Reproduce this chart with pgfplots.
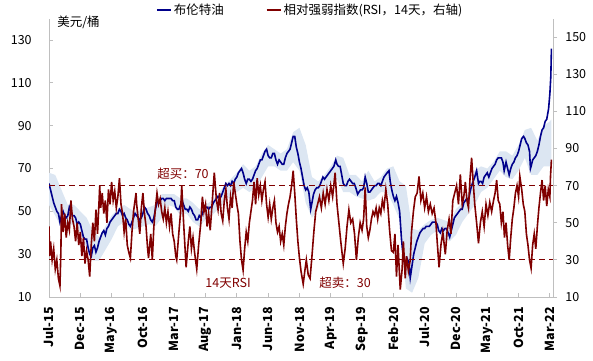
\documentclass[border=0pt]{standalone}
\usepackage{pgfplots}
\pgfplotsset{compat=1.18}
\usepackage{pgfplotstable}
\usepgfplotslibrary{fillbetween}
\usepackage{fontspec}
\setmainfont{Noto Sans CJK SC}
\definecolor{oilblue}{RGB}{0,0,139}
\definecolor{rsired}{RGB}{128,0,0}
\definecolor{bandblue}{RGB}{220,230,242}
\definecolor{axgray}{RGB}{191,191,191}

\pgfplotstableread{
m p
0 63
0.25 60
0.5 57
0.75 54
1.0 52
1.25 50
1.5 49
1.75 45
2.0 48
2.25 50
2.5 48
2.75 47
3.0 48
3.25 52
3.5 50
3.75 48
4.0 48
4.25 47
4.5 44
4.75 45
5.0 44
5.25 41
5.5 38
5.75 37
6.0 37
6.25 33
6.5 30
6.75 29
7.0 33
7.25 34
7.5 31
7.75 33
8.0 36
8.25 38
8.5 40
8.75 41
9.0 39
9.25 42
9.5 43
9.75 45
10.0 46
10.25 47
10.5 48
10.75 49
11.0 49
11.25 51
11.5 50
11.75 48
12.0 49
12.25 47
12.5 46
12.75 44
13.0 43
13.25 45
13.5 47
13.75 49
14.0 48
14.25 47
14.5 46
14.75 47
15.0 49
15.25 52
15.5 51
15.75 49
16.0 48
16.25 46
16.5 45
16.75 47
17.0 51
17.25 54
17.5 55
17.75 55
18.0 56
18.25 56
18.5 55
18.75 56
19.0 56
19.25 56
19.5 56
19.75 55
20.0 55
20.25 52
20.5 51
20.75 51
21.0 53
21.25 55
21.5 53
21.75 51
22.0 51
22.25 50
22.5 52
22.75 51
23.0 49
23.25 48
23.5 46
23.75 46
24.0 48
24.25 47
24.5 49
24.75 51
25.0 52
25.25 52
25.5 51
25.75 52
26.0 52
26.25 54
26.5 55
26.75 56
27.0 57
27.25 56
27.5 57
27.75 59
28.0 61
28.25 63
28.5 62
28.75 63
29.0 62
29.25 64
29.5 63
29.75 65
30.0 66
30.25 68
30.5 69
30.75 70
31.0 68
31.25 65
31.5 63
31.75 65
32.0 65
32.25 64
32.5 65
32.75 67
33.0 69
33.25 70
33.5 72
33.75 74
34.0 74
34.25 76
34.5 78
34.75 79
35.0 76
35.25 75
35.5 75
35.75 77
36.0 77
36.25 74
36.5 72
36.75 74
37.0 73
37.25 72
37.5 72
37.75 75
38.0 77
38.25 78
38.5 79
38.75 82
39.0 85
39.25 85
39.5 80
39.75 77
40.0 73
40.25 70
40.5 66
40.75 62
41.0 60
41.25 61
41.5 59
41.8 51
42.0 54
42.25 58
42.5 60
42.75 61
43.0 61
43.25 62
43.5 64
43.75 66
44.0 65
44.25 66
44.5 67
44.75 68
45.0 69
45.25 70
45.5 71
45.8 74
46.0 72
46.25 71
46.5 71
46.75 67
47.0 63
47.25 62
47.5 62
47.75 64
48.0 65
48.25 64
48.5 63
48.75 63
49.0 61
49.3 58
49.5 59
49.75 60
50.0 60
50.25 61
50.5 66
50.75 63
51.0 59
51.25 59
51.5 60
51.75 61
52.0 62
52.25 62
52.5 63
52.75 63
53.0 62
53.25 64
53.5 66
53.75 67
54.0 68
54.3 69
54.5 64
54.75 60
55.0 57
55.25 55
55.5 57
55.75 54
56.0 50
56.3 37
56.6 28
56.9 25
57.2 28
57.5 26
57.7 19
58.0 25
58.25 30
58.5 33
58.75 36
59.0 38
59.25 40
59.5 41
59.75 42
60.0 42
60.25 43
60.5 43
60.75 43
61.0 44
61.25 45
61.5 45
61.75 45
62.0 44
62.25 41
62.5 40
62.75 42
63.0 41
63.25 42
63.5 42
63.75 40
64.0 38
64.25 41
64.5 44
64.75 47
65.0 48
65.25 49
65.5 50
65.75 51
66.0 51
66.25 54
66.5 55
66.75 56
67.0 55
67.25 59
67.5 62
67.75 64
68.0 66
68.3 69
68.6 63
68.8 64
69.0 64
69.25 63
69.5 66
69.75 67
70.0 68
70.25 66
70.5 68
70.75 70
71.0 71
71.25 72
71.5 74
71.75 75
72.0 75
72.25 75
72.5 73
72.7 69
73.0 73
73.25 70
73.5 67
73.75 70
74.0 72
74.25 73
74.5 75
74.75 76
75.0 78
75.25 81
75.5 84
75.8 85
76.0 84
76.25 82
76.5 81
76.75 78
76.9 70
77.0 71
77.25 74
77.5 75
77.75 76
78.0 78
78.25 81
78.5 85
78.75 88
79.0 89
79.25 92
79.5 93
79.8 98
80.0 105
80.15 113
80.25 126
}\oiltable

\pgfplotstableread{
m r
0 48
0.1 32
0.25 40
0.5 30
0.75 36
1.0 25
1.25 30
1.5 20
1.75 16
1.9 35
2.0 60
2.25 45
2.5 55
2.75 42
3.0 50
3.25 46
3.5 62
3.75 52
4.0 48
4.25 40
4.5 50
4.75 38
5.0 45
5.25 32
5.5 42
5.75 28
6.0 35
6.25 30
6.5 21
6.75 38
7.0 50
7.25 40
7.5 57
7.75 44
8.0 62
8.1 70
8.25 58
8.5 66
8.75 55
9.0 62
9.25 50
9.5 68
9.75 60
10.0 72
10.25 62
10.5 67
10.75 58
11.0 64
11.25 74
11.5 60
11.75 55
12.0 45
12.25 52
12.5 38
12.75 34
13.0 31
13.25 45
13.5 56
13.9 66
14.0 60
14.25 52
14.5 44
14.75 58
15.0 66
15.25 55
15.5 48
15.75 36
15.9 31
16.25 44
16.5 30
16.75 48
17.0 58
17.25 66
17.5 60
17.75 63
18.0 56
18.25 52
18.5 58
18.75 50
19.0 56
19.25 48
19.5 55
19.75 44
20.0 40
20.25 32
20.4 30
20.75 45
21.0 55
21.2 70
21.5 50
21.9 26
22.25 40
22.5 48
22.75 36
23.0 42
23.25 34
23.6 25
23.9 38
24.25 50
24.5 64
24.75 56
25.0 60
25.25 48
25.5 55
25.75 46
26.0 58
26.4 77
26.75 62
27.0 57
27.25 66
27.5 55
27.75 51
28.0 62
28.25 68
28.5 58
28.75 52
29.0 64
29.25 58
29.5 72
29.75 66
30.0 60
30.25 55
30.5 40
30.75 30
31.0 24.5
31.25 36
31.5 45
31.75 40
32.0 50
32.25 56
32.5 62
32.75 72
33.0 60
33.25 74
33.5 65
33.75 70
34.0 62
34.25 68
34.5 72
34.75 60
35.0 53
35.25 60
35.5 52
35.75 58
36.0 62
36.25 50
36.5 45
36.75 48
37.0 40
37.25 44
37.5 38
37.75 48
38.0 55
38.25 60
38.5 64
38.75 70
39.0 78
39.25 66
39.5 52
39.75 40
40.0 31
40.25 24
40.6 17
40.9 25
41.1 30
41.4 22
41.7 20
42.0 32
42.3 45
42.6 56
42.9 60
43.2 64
43.5 58
43.8 66
44.1 60
44.4 68
44.7 62
45.0 70
45.3 64
45.7 77
46.0 60
46.3 50
46.6 40
47.0 28
47.3 36
47.6 48
47.9 57
48.2 50
48.5 52
48.8 44
49.1 30
49.4 42
49.7 50
50.0 46
50.25 52
50.5 69
50.75 48
51.0 42
51.25 46
51.5 52
51.75 56
52.0 54
52.25 58
52.5 52
52.75 58
53.0 55
53.25 62
53.5 58
53.8 68
54.1 60
54.4 46
54.7 35
55.0 34
55.25 44
55.5 21
55.75 38
56.1 14
56.4 25
56.6 40
56.9 20
57.1 32
57.4 24
57.7 30
57.9 45
58.2 56
58.5 64
58.8 66
59.1 75
59.4 62
59.7 66
60.0 58
60.3 64
60.6 56
60.9 60
61.2 55
61.5 58
61.8 50
62.0 40
62.3 26
62.6 38
62.9 45
63.3 33
63.6 46
63.9 52
64.2 44
64.5 62
64.8 66
65.1 70
65.4 60
65.7 76
66.0 60
66.25 64
66.5 72
66.75 62
67.0 58
67.25 74
67.5 85
67.75 72
68.0 60
68.3 50
68.6 39
68.9 50
69.2 56
69.5 48
69.8 60
70.1 54
70.4 61
70.7 56
71.0 62
71.25 66
71.5 73
71.75 62
72.0 60
72.25 50
72.5 56
72.75 42
73.0 50
73.25 38
73.5 30
73.75 42
74.0 52
74.25 58
74.5 66
74.75 70
75.0 64
75.2 75
75.5 68
75.75 60
76.0 56
76.25 44
76.5 38
76.75 30
77.0 25.5
77.25 38
77.5 44
77.75 36
78.0 48
78.25 58
78.5 66
78.75 73
79.0 62
79.25 70
79.5 59
79.75 68
80.0 64
80.1 75
80.25 84
}\rsitable

\pgfplotstableread{
m lo hi
0 53 68
1 48 67
2 42 60
3 43 53
4 44 53
5 40 50
6 33 47
7 27 41
8 27 38
9 32 43
10 37 48
11 43 51
12 45 53
13 41 51
14 42 50
15 43 51
16 44 52
17 43 53
18 47 58
19 53 58
20 52 58
21 48 56
22 49 56
23 45 54
24 43 51
25 46 53
26 48 55
27 51 58
28 54 62
29 57 65
30 59 68
31 61 72
32 59 69
33 61 71
34 66 77
35 71 81
36 71 79
37 69 77
38 69 79
39 73 87
40 69 89
41 54 81
42 47 66
43 51 64
44 59 67
45 63 71
46 65 76
47 59 75
48 59 67
49 57 67
50 56 64
51 55 69
52 56 64
53 59 66
54 59 70
55 53 71
56 46 64
57 14 62
58 12 42
59 19 41
60 35 44
61 39 46
62 41 47
63 37 46
64 36 45
65 39 51
66 45 54
67 49 59
68 53 69
69 59 71
70 61 70
71 65 73
72 69 78
73 66 78
74 65 76
75 69 81
76 75 88
77 67 89
78 67 83
79 71 90
80 71 92
80.25 71 93
}\bandtable

\begin{document}
\fontsize{12.5}{15}\selectfont
\begin{tikzpicture}
\pgfplotsset{common/.style={
  scale only axis, width=504pt, height=278.4pt,
  xmin=0, xmax=80.5,
  clip mode=individual,
  /pgf/number format/assume math mode=true,
  tick style={axgray, line width=0.8pt},
  axis line style={axgray, line width=1pt},
  major tick length=4pt,
  tick label style={font=\fontsize{12.5}{15}\selectfont},
}}
\begin{axis}[common,
  ymin=10, ymax=140,
  axis y line*=left, axis x line*=bottom,
  ytick={10,30,...,130},
  xtick={0,5,...,80},
  xticklabels={Jul-15,Dec-15,May-16,Oct-16,Mar-17,Aug-17,Jan-18,Jun-18,Nov-18,Apr-19,Sep-19,Feb-20,Jul-20,Dec-20,May-21,Oct-21,Mar-22},
  xticklabel style={rotate=90, anchor=east, font=\fontsize{12.5}{15}\selectfont\bfseries},
  tick align=inside,
  yticklabel shift=13pt,
  xticklabel shift=6pt,
]
\addplot[name path=U, draw=none, forget plot] table[x=m, y=hi] {\bandtable};
\addplot[name path=L, draw=none, forget plot] table[x=m, y=lo] {\bandtable};
\addplot[bandblue, forget plot] fill between[of=U and L];
\addplot[oilblue, line width=1.6pt, forget plot] table[x=m, y=p] {\oiltable};
\node[anchor=west, inner sep=0pt] at (rel axis cs:0.016,0.988) {美元/桶};
\end{axis}
\begin{axis}[common,
  ymin=10, ymax=160,
  axis y line*=right, axis x line=none,
  ytick={10,30,...,150},
  tick align=outside,
  yticklabel shift=4pt,
  legend style={at={(0.518,1.031)}, anchor=center, draw=none, fill=none,
    legend columns=2, font=\fontsize{12.5}{15}\selectfont,
    /tikz/every even column/.append style={column sep=40pt}},
  legend image code/.code={\draw[#1] (0pt,0pt) -- (14pt,0pt);},
]
\addlegendimage{oilblue, line width=2pt}
\addlegendentry{布伦特油}
\addplot[rsired, line width=1.6pt] table[x=m, y=r] {\rsitable};
\addlegendentry{相对强弱指数(RSI，14天，右轴)}
\addplot[rsired, dashed, dash pattern=on 6pt off 4pt, line width=1pt, forget plot] coordinates {(0,70) (80.5,70)};
\addplot[rsired, dashed, dash pattern=on 6pt off 4pt, line width=1pt, forget plot] coordinates {(0,30) (80.5,30)};
\node[rsired] at (axis cs:21.4,76.3) {超买：70};
\node[rsired] at (axis cs:47.3,17.5) {超卖：30};
\node[rsired] at (axis cs:28.6,17.5) {14天RSI};
\end{axis}
\pgfresetboundingbox
\path[use as bounding box] (-49pt,-63pt) rectangle (544pt,297pt);
\end{tikzpicture}
\end{document}
